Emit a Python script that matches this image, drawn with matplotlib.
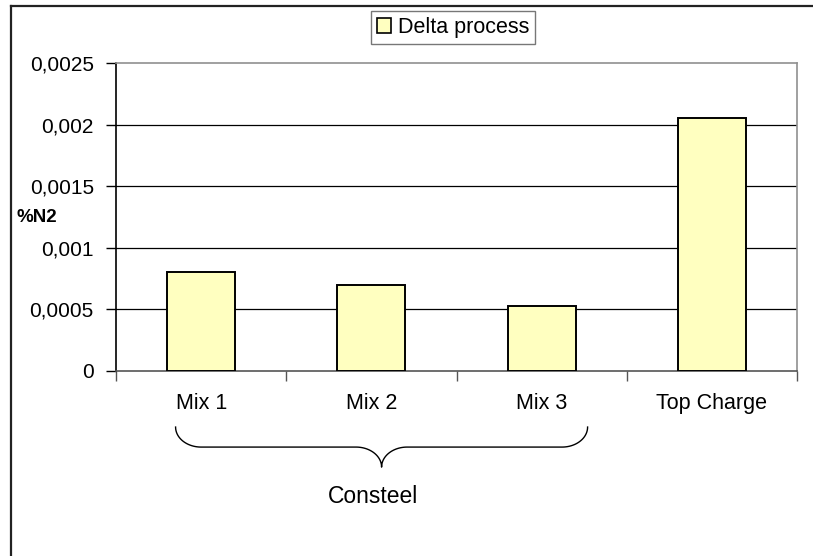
import numpy as np
import matplotlib
matplotlib.use('agg')
import matplotlib.pyplot as plt
from matplotlib.lines import Line2D
from matplotlib.patches import Patch
import matplotlib.transforms as mtransforms

plt.rcParams['font.family'] = ['Liberation Sans', 'DejaVu Sans']

# data
categories = ['Mix 1', 'Mix 2', 'Mix 3', 'Top Charge']
delta_process = [0.0008, 0.0007, 0.00053, 0.00205]
yticks = [0, 0.0005, 0.001, 0.0015, 0.002, 0.0025]
ytick_labels = ['0', '0,0005', '0,001', '0,0015', '0,002', '0,0025']
series_name = 'Delta process'
group_name = 'Consteel'
group_members = [0, 1, 2]

W, H = 813, 556
fig = plt.figure(figsize=(W / 100, H / 100), dpi=100)
ax = fig.add_axes([116 / W, 1 - 371 / H, (797 - 116) / W, (371 - 63) / H])

x = np.arange(len(categories))
ax.bar(x, delta_process, width=0.4, color='#FFFFC0', edgecolor='black',
       linewidth=1.4, zorder=3)

# grid + axis look
ax.set_ylim(0, 0.0025)
ax.set_xlim(-0.5, len(categories) - 0.5)
ax.set_yticks(yticks)
ax.set_yticklabels(ytick_labels, fontsize=15)
for y in yticks[1:-1]:
    ax.axhline(y, color='black', linewidth=0.9, zorder=1)

ax.set_xticks(np.arange(len(categories) + 1) - 0.5)
ax.set_xticklabels([])
ax.set_xticks(x, minor=True)
ax.set_xticklabels(categories, minor=True, fontsize=15.5)
ax.tick_params(axis='x', which='minor', length=0, pad=16)
ax.tick_params(axis='x', which='major', length=7, width=1, color='#555555')
ax.tick_params(axis='y', length=7, width=1, pad=9)

ax.spines['left'].set_color('black')
ax.spines['left'].set_linewidth(1.2)
ax.spines['bottom'].set_color('#555555')
ax.spines['bottom'].set_linewidth(1.2)
for s in ['top', 'right']:
    ax.spines[s].set_color('#909090')
    ax.spines[s].set_linewidth(1.2)

# y label
fig.text(16 / W, 1 - 217 / H, '%N2', fontsize=13.5, fontweight='bold',
         ha='left', va='center')

# brace under the Consteel group
trans = mtransforms.blended_transform_factory(ax.transData, ax.transAxes)
xl = group_members[0] - 0.15
xr = group_members[-1] + 0.27
xm = (xl + xr) / 2
y_top, y_mid, y_tip = -0.182, -0.247, -0.312
t = np.linspace(0, np.pi / 2, 30)
cw = 0.15
bx = list(xl + cw * (1 - np.cos(t)))
by = list(y_top + (y_mid - y_top) * np.sin(t))
bx += list(xm - cw + cw * np.sin(t))
by += list(y_mid + (y_tip - y_mid) * (1 - np.cos(t)))
bx += list(xm + cw - cw * np.sin(t)[::-1])
by += list(y_mid + (y_tip - y_mid) * (1 - np.cos(t))[::-1])
bx += list(xr - cw * (1 - np.cos(t))[::-1])
by += list(y_top + (y_mid - y_top) * np.sin(t)[::-1])
ax.plot(bx, by, color='black', linewidth=1.0, transform=trans, clip_on=False)
ax.text(1.01, -0.409, group_name, transform=trans, fontsize=16.5,
        ha='center', va='center')

# legend
handle = Patch(facecolor='#FFFFC0', edgecolor='black', linewidth=1.2)
leg = fig.legend([handle], [series_name], loc='center',
                 bbox_to_anchor=(453 / W, 1 - 27.5 / H), fontsize=15.5,
                 frameon=True, fancybox=False, handlelength=0.65,
                 handleheight=0.65, handletextpad=0.3, borderpad=0.3)
leg.get_frame().set_edgecolor('#555555')
leg.get_frame().set_linewidth(1.0)

# outer chart border (top and left only visible)
fig.add_artist(Line2D([11 / W, 1], [1 - 6 / H, 1 - 6 / H], color='#222222',
                      linewidth=1.6, transform=fig.transFigure))
fig.add_artist(Line2D([11 / W, 11 / W], [1 - 6 / H, 0], color='#222222',
                      linewidth=1.6, transform=fig.transFigure))

fig.savefig('out.png', dpi=100)
